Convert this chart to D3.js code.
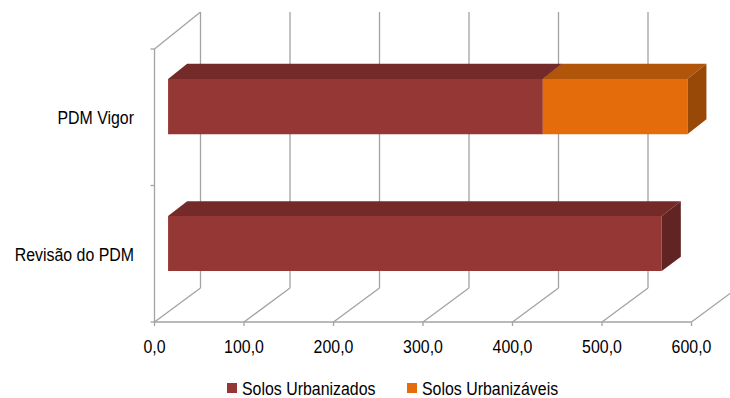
<!DOCTYPE html>
<html>
<head>
<meta charset="utf-8">
<script src="https://cdn.jsdelivr.net/npm/d3@7/dist/d3.min.js"></script>
<style>
  html, body { margin: 0; padding: 0; background: #fff; }
  svg text { font-family: "Liberation Sans", Arial, sans-serif; fill: #000; }
</style>
</head>
<body>
<svg id="chart" width="730" height="398"></svg>
<script>
// Categories (top to bottom) and stacked series values (hectares)
const categories = ["PDM Vigor", "Revisão do PDM"];
const seriesNames = ["Solos Urbanizados", "Solos Urbanizáveis"];
const urbanizados = [418.7, 551.6];
const urbanizaveis = [161.5, 0];
const xTicks = [0, 100, 200, 300, 400, 500, 600];
const formatTick = v => d3.format(".1f")(v).replace(".", ",");

// Colours per series: front, top, side faces
const palette = [
  { front: "#953735", top: "#742a28", side: "#622423" },
  { front: "#e46c0a", top: "#b0550a", side: "#984807" }
];

// Condensed text: regular sans squeezed horizontally
const FONT_SIZE = 18.5, SQUEEZE = 0.86;
function addText(parent, tx, ty, str, anchor) {
  return parent.append("text")
    .attr("transform", `translate(${tx},${ty}) scale(${SQUEEZE},1)`)
    .attr("font-size", FONT_SIZE)
    .attr("text-anchor", anchor || "start")
    .text(str);
}

const svg = d3.select("#chart");

// Front plane of the 3D box and depth offset of the back wall
const x = d3.scaleLinear().domain([0, 600]).range([154.5, 691.5]);
const y = d3.scaleBand().domain(categories).range([49, 322]).paddingInner(0.597).paddingOuter(0.2985);
const FRONT_TOP = 49, FRONT_BOTTOM = 322;
const BACK_TOP = 12, BACK_BOTTOM = 288;
const DX = 46;
const yBack = d3.scaleLinear().domain([FRONT_TOP, FRONT_BOTTOM]).range([BACK_TOP, BACK_BOTTOM]);

// Project a point on the front plane to depth d (0 = front wall, 1 = back wall)
function proj(px, py, d) {
  return [px + d * DX, py + d * (yBack(py) - py)];
}

const grid = svg.append("g").attr("stroke", "#a3a3a3").attr("stroke-width", 1.3).attr("fill", "none");

// Back wall vertical gridlines
xTicks.forEach(v => {
  const [bx, by0] = proj(x(v), FRONT_TOP, 1);
  const [, by1] = proj(x(v), FRONT_BOTTOM, 1);
  grid.append("line").attr("x1", bx).attr("x2", bx).attr("y1", by0).attr("y2", by1);
});
// Floor diagonals
xTicks.forEach(v => {
  const [bx, by] = proj(x(v), FRONT_BOTTOM, 1);
  grid.append("line").attr("x1", x(v)).attr("y1", FRONT_BOTTOM).attr("x2", bx).attr("y2", by);
});
// Left wall top edge
{
  const [bx, by] = proj(x(0), FRONT_TOP, 1);
  grid.append("line").attr("x1", x(0)).attr("y1", FRONT_TOP).attr("x2", bx).attr("y2", by);
}

// Axes on the front plane
const axisG = svg.append("g").attr("stroke", "#a3a3a3").attr("stroke-width", 1.3);
axisG.append("line").attr("x1", x(0)).attr("x2", x(0)).attr("y1", FRONT_TOP).attr("y2", FRONT_BOTTOM);
axisG.append("line").attr("x1", x(0)).attr("x2", x(600)).attr("y1", FRONT_BOTTOM).attr("y2", FRONT_BOTTOM);
// Category boundary ticks
const catBounds = [FRONT_TOP, (y(categories[0]) + y.bandwidth() + y(categories[1])) / 2, FRONT_BOTTOM];
catBounds.forEach(cy => axisG.append("line").attr("x1", x(0) - 4).attr("x2", x(0)).attr("y1", cy).attr("y2", cy));
// Value ticks
xTicks.forEach(v => axisG.append("line").attr("x1", x(v)).attr("x2", x(v)).attr("y1", FRONT_BOTTOM).attr("y2", FRONT_BOTTOM + 4));

// 3D stacked bars
const D0 = 0.295, D1 = 0.71;
const bars = svg.append("g");
categories.forEach((cat, i) => {
  const stacks = [urbanizados[i], urbanizaveis[i]];
  let start = 0;
  stacks.forEach((val, s) => {
    if (val <= 0) return;
    const end = start + val;
    const top = y(cat), bottom = y(cat) + y.bandwidth();
    const fTL = proj(x(start), top, D0), fTR = proj(x(end), top, D0);
    const fBL = proj(x(start), bottom, D0), fBR = proj(x(end), bottom, D0);
    const bTL = proj(x(start), top, D1), bTR = proj(x(end), top, D1);
    const bBR = proj(x(end), bottom, D1);
    const c = palette[s];
    const poly = pts => pts.map(p => p.join(",")).join(" ");
    bars.append("polygon").attr("points", poly([fTL, fTR, bTR, bTL])).attr("fill", c.top);
    bars.append("polygon").attr("points", poly([fTR, bTR, bBR, fBR])).attr("fill", c.side);
    bars.append("polygon").attr("points", poly([fTL, fTR, fBR, fBL])).attr("fill", c.front);
    start = end;
  });
});

// Category labels
const labels = svg.append("g");
categories.forEach(cat => {
  addText(labels, 134, y(cat) + y.bandwidth() / 2 + 7, cat, "end");
});

// Value tick labels
const tl = svg.append("g");
xTicks.forEach(v => addText(tl, x(v), 353, formatTick(v), "middle"));

// Legend
const legend = svg.append("g");
const legendX = [227, 407];
seriesNames.forEach((name, s) => {
  legend.append("rect").attr("x", legendX[s]).attr("y", 383).attr("width", 10).attr("height", 10).attr("fill", palette[s].front);
  addText(legend, legendX[s] + 15, 395, name);
});
</script>
</body>
</html>
